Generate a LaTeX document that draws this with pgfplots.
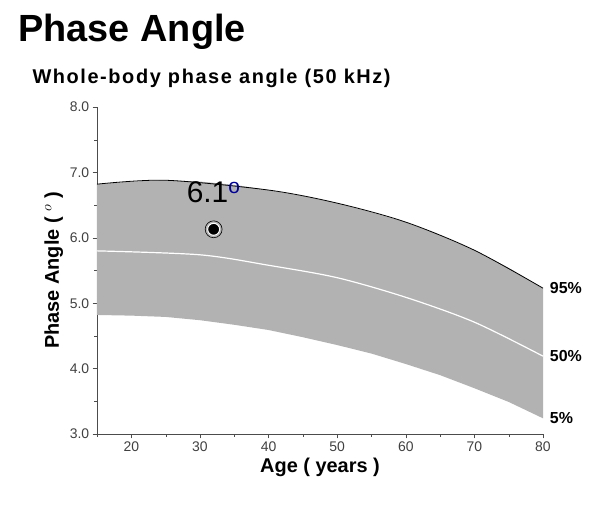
\documentclass[border=0pt]{standalone}
\usepackage{pgfplots}
\pgfplotsset{compat=1.18}
\usepackage{fontspec}
\setmainfont{Liberation Sans}
\begin{document}
\begin{tikzpicture}
\path[use as bounding box] (-97bp,-75bp) rectangle (508bp,434bp);
\begin{axis}[at={(0,0)},anchor=south west,scale only axis,width=446bp,height=327bp,
  xmin=15,xmax=80,ymin=3,ymax=8,
  axis x line*=bottom, axis y line*=left,
  xtick={20,30,...,80}, ytick={3,4,...,8},
  minor xtick={15,25,...,75}, minor ytick={3.5,4.5,...,7.5},
  yticklabel style={/pgf/number format/.cd,fixed,fixed zerofill,precision=1},
  /pgf/number format/assume math mode=true,
  ticklabel style={font=\fontsize{14}{14}\selectfont, text=black!75},
  tick align=outside, tick style={black!70},
  axis line style={black!70},
  xlabel={\bfseries Age ( years )}, ylabel={\bfseries Phase Angle ( $^{o}$ )},
  label style={font=\fontsize{20}{22}\selectfont},
  clip=false]
\addplot[fill=black!30, draw=none] coordinates {(15,6.82)(20,6.86)(25,6.88)(30,6.86)(35,6.81)(40,6.73)(45,6.64)(50,6.53)(55,6.39)(60,6.24)(65,6.04)(70,5.81)(75,5.54)(80,5.23)
 (80,3.24)(75,3.49)(70,3.70)(65,3.90)(60,4.07)(55,4.23)(50,4.36)(45,4.48)(40,4.59)(35,4.67)(30,4.74)(25,4.79)(20,4.81)(15,4.82)} -- cycle;
\addplot[black, thick, smooth] coordinates {(15,6.82)(25,6.88)(40,6.73)(50,6.53)(60,6.24)(70,5.81)(80,5.23)};
\addplot[white, very thick, smooth] coordinates {(15,5.80)(30,5.74)(40,5.58)(50,5.39)(60,5.09)(70,4.71)(80,4.19)};
\addplot[only marks, mark=*, mark size=6pt, mark options={fill=black,draw=white,line width=1pt}] coordinates {(32,6.13)};
\addplot[only marks, mark=o, mark size=8.5pt, mark options={draw=black,line width=0.6pt}] coordinates {(32,6.13)};
\node[font=\fontsize{30}{30}\selectfont] at (axis cs:32,6.7) {6.1\textsuperscript{\color{blue!60!black}o}};
\node[anchor=west,font=\bfseries\fontsize{16}{16}\selectfont] at (axis cs:80.5,5.23) {95\%};
\node[anchor=west,font=\bfseries\fontsize{16}{16}\selectfont] at (axis cs:80.5,4.19) {50\%};
\node[anchor=west,font=\bfseries\fontsize{16}{16}\selectfont] at (axis cs:80.5,3.24) {5\%};
\end{axis}
\node[anchor=west,font=\bfseries\fontsize{38}{38}\selectfont] at (-82bp,402bp) {Phase Angle};
\node[anchor=west,font=\bfseries\fontsize{20}{20}\selectfont] at (-68bp,356bp) {\addfontfeature{LetterSpace=8}Whole-body phase angle (50 kHz)};
\end{tikzpicture}
\end{document}
